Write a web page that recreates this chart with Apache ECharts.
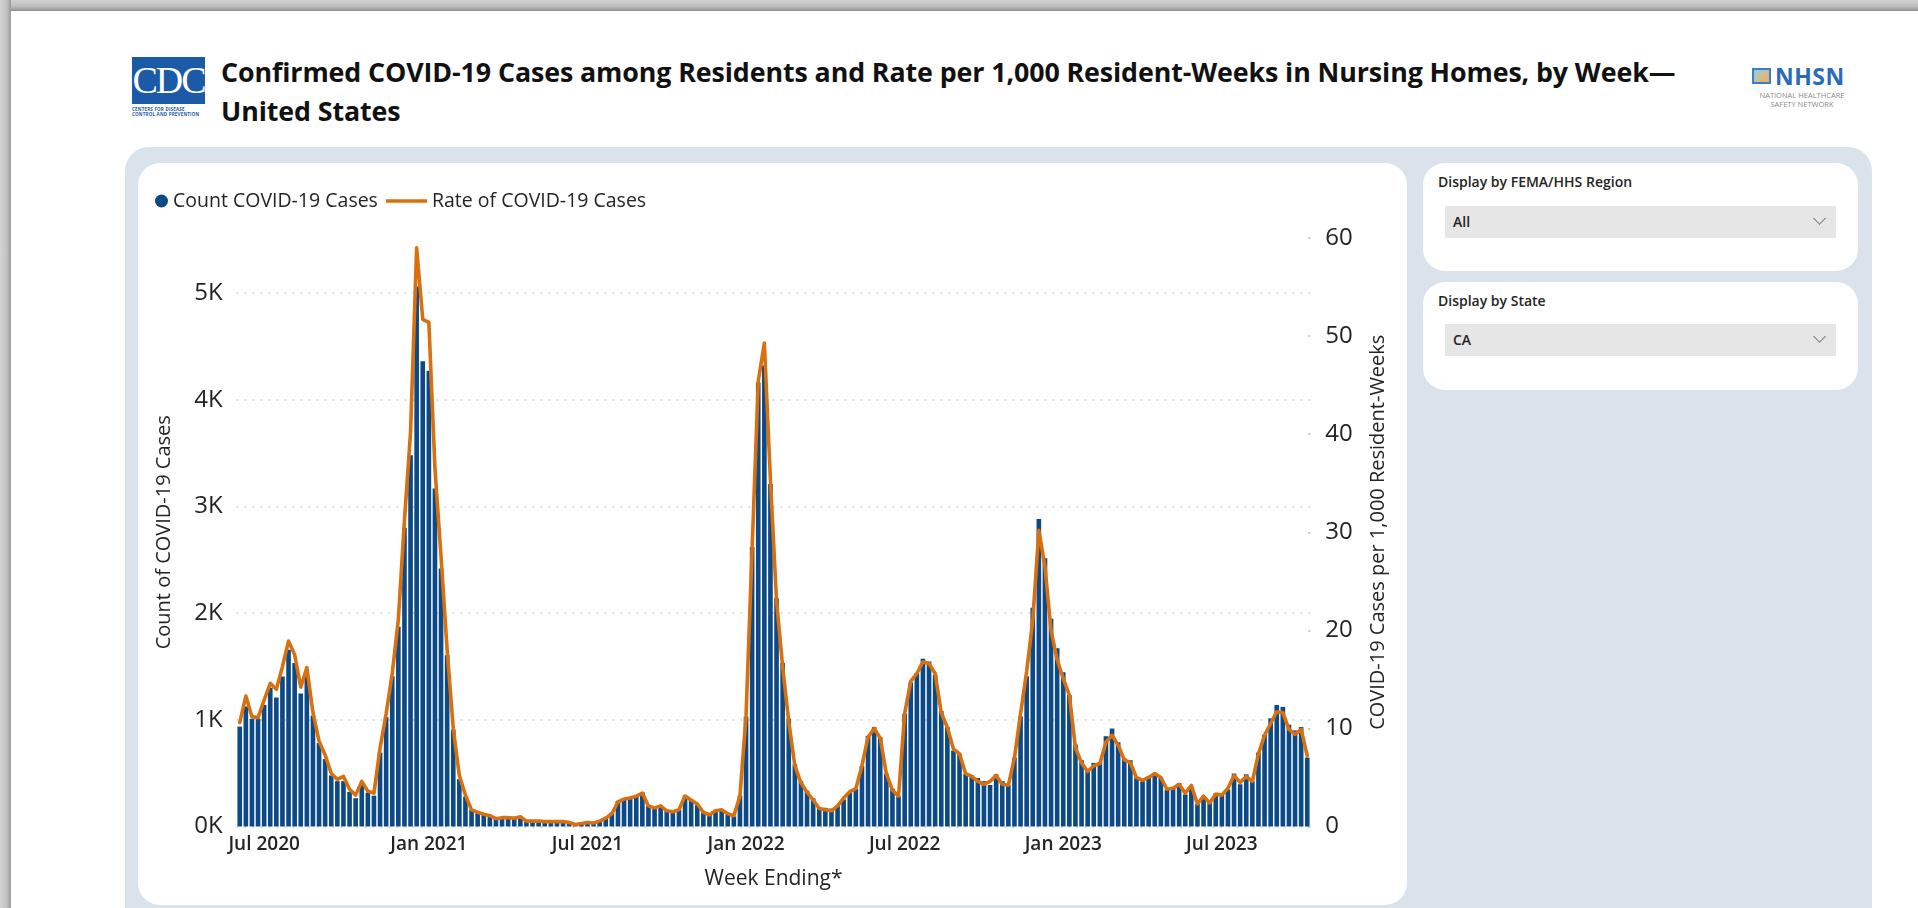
<!DOCTYPE html>
<html>
<head>
<meta charset="utf-8">
<title>Confirmed COVID-19 Cases among Residents – Nursing Homes</title>
<script src="https://cdn.jsdelivr.net/npm/echarts@6/dist/echarts.min.js"></script>
<style>
  html, body {
    margin: 0; padding: 0; width: 1918px; height: 908px; overflow: hidden;
    background: #ffffff; color: #252423;
    font-family: "Segoe UI", "Open Sans", "Noto Sans", sans-serif;
  }
  .frame-top { position: absolute; left: 0; top: 0; width: 1918px; height: 11px;
    background: linear-gradient(#d2d2d2, #bcbcbc 60%, #8e8e8e); }
  .frame-left { position: absolute; left: 0; top: 0; width: 11px; height: 908px;
    background: linear-gradient(90deg, #d6d6d6, #c2c2c2 60%, #9a9a9a); }
  .cdc { position: absolute; left: 132px; top: 57px; width: 73px; height: 62px; }
  .cdc .box { width: 73px; height: 47px; background: #1b5aa7; color: #fff;
    font-family: "Liberation Serif", "DejaVu Serif", serif; font-size: 38px; line-height: 47px;
    text-align: center; letter-spacing: -2px; }
  .cdc .sub { font-size: 4.5px; line-height: 5px; color: #1b5aa7; font-weight: 700; margin-top: 3px; letter-spacing: 0.2px; }
  .title { position: absolute; left: 221px; top: 52px; margin: 0; width: 1540px;
    font-size: 26.8px; line-height: 39px; font-weight: 700; color: #111111; letter-spacing: -0.1px; }
  .nhsn { position: absolute; left: 1752px; top: 64px; width: 100px; height: 46px; }
  .nhsn .icon { position: absolute; left: 0; top: 4px; width: 19px; height: 16px;
    border: 2px solid #3b7fc4; box-sizing: border-box; background: linear-gradient(135deg, #9cc9ea, #f2b44c); }
  .nhsn .word { position: absolute; left: 23px; top: -4px; font-size: 23px; font-weight: 700; color: #2a6cb8; letter-spacing: 0.5px; }
  .nhsn .net { position: absolute; left: 0; top: 27px; width: 100px; text-align: center; font-size: 7.5px; line-height: 9px; color: #8a8a8a; }
  .panel { position: absolute; left: 125px; top: 147px; width: 1747px; height: 800px;
    background: #dae3ec; border-radius: 24px; }
  .card { position: absolute; background: #ffffff; border-radius: 22px; }
  .chart-card { left: 138px; top: 163px; width: 1269px; height: 742px; }
  .slicer { left: 1423px; width: 435px; height: 108px; }
  .slicer .label { position: absolute; left: 15px; top: 9px; font-size: 14px; font-weight: 600; color: #252423; }
  .slicer .select { position: absolute; left: 22px; width: 391px; height: 32px; background: #e6e6e6; }
  .slicer .select span { position: absolute; left: 8px; top: 6px; font-size: 14px; font-weight: 600; color: #252423; }
  .slicer .select i { position: absolute; right: 12px; top: 8px; width: 8px; height: 8px;
    border-right: 1.3px solid #777; border-bottom: 1.3px solid #777; transform: rotate(45deg); }
  #chart { position: absolute; left: 0; top: 0; width: 1918px; height: 908px; }
</style>
</head>
<body>
<div class="frame-top"></div>
<div class="frame-left"></div>

<div class="cdc">
  <div class="box">CDC</div>
  <div class="sub">CENTERS FOR DISEASE<br>CONTROL AND PREVENTION</div>
</div>
<h1 class="title">Confirmed COVID-19 Cases among Residents and Rate per 1,000 Resident-Weeks in Nursing Homes, by Week—<br>United States</h1>
<div class="nhsn">
  <div class="icon"></div>
  <div class="word">NHSN</div>
  <div class="net">NATIONAL HEALTHCARE<br>SAFETY NETWORK</div>
</div>

<div class="panel"></div>
<div class="card chart-card"></div>
<div class="card slicer" style="top:163px">
  <div class="label">Display by FEMA/HHS Region</div>
  <div class="select" style="top:43px"><span>All</span><i></i></div>
</div>
<div class="card slicer" style="top:282px">
  <div class="label">Display by State</div>
  <div class="select" style="top:42px"><span>CA</span><i></i></div>
</div>

<div id="chart"></div>

<script>
// Weekly series, first week ending 2020-05-31
const firstWeekEnding = '2020-05-31';

// Count of confirmed COVID-19 cases among residents, per week
const caseCounts = [
  936, 1125, 1010, 1010, 1140, 1300, 1210, 1405, 1657, 1532,
  1246, 1405, 1039, 782, 632, 478, 425, 425, 325, 265,
  407, 317, 289, 692, 1025, 1407, 1871, 2800, 3480, 5060,
  4360, 4270, 3168, 2418, 1604, 907, 443, 282, 157, 139,
  121, 104, 79, 86, 86, 79, 86, 50, 50, 50,
  43, 43, 46, 46, 36, 18, 25, 32, 35, 55,
  85, 130, 240, 265, 275, 295, 320, 195, 170, 190,
  150, 145, 160, 290, 250, 200, 130, 110, 150, 150,
  115, 95, 290, 1030, 2620, 4160, 4320, 3210, 2139, 1532,
  1011, 582, 425, 336, 264, 182, 175, 168, 193, 254,
  318, 354, 568, 850, 932, 836, 496, 354, 282, 1057,
  1350, 1439, 1571, 1546, 1421, 1082, 932, 711, 682, 496,
  479, 454, 425, 389, 489, 425, 389, 646, 1032, 1407,
  2050, 2882, 2514, 1946, 1671, 1446, 1232, 768, 621, 532,
  596, 604, 846, 918, 789, 639, 621, 461, 425, 468,
  504, 461, 346, 371, 407, 300, 371, 211, 282, 229,
  311, 300, 346, 496, 396, 489, 425, 693, 861, 1014,
  1139, 1121, 954, 900, 932, 646
];

// Rate of COVID-19 cases per 1,000 resident-weeks, per week
const caseRates = [
  10.6, 13.3, 11.2, 11.1, 12.9, 14.6, 14.0, 16.3, 18.9, 17.5,
  14.2, 16.2, 11.6, 8.7, 7.3, 5.4, 4.8, 5.1, 3.8, 3.2,
  4.6, 3.6, 3.4, 8.0, 11.5, 15.6, 21.1, 31.2, 40.2, 59.0,
  51.7, 51.4, 36.5, 27.5, 18.0, 10.0, 5.2, 3.2, 1.7, 1.45,
  1.25, 1.1, 0.8, 0.9, 0.9, 0.85, 1.0, 0.55, 0.55, 0.55,
  0.5, 0.5, 0.5, 0.5, 0.4, 0.2, 0.3, 0.4, 0.35, 0.55,
  0.85, 1.3, 2.5, 2.8, 2.9, 3.1, 3.4, 2.1, 1.9, 2.1,
  1.6, 1.5, 1.7, 3.1, 2.7, 2.3, 1.45, 1.2, 1.6, 1.7,
  1.3, 1.1, 3.1, 11.3, 28.4, 45.4, 49.3, 35.3, 23.0, 16.3,
  10.7, 6.2, 4.45, 3.5, 2.7, 1.83, 1.7, 1.6, 2.1, 2.9,
  3.55, 3.86, 6.2, 9.1, 10.0, 9.0, 5.4, 3.7, 3.1, 11.5,
  14.8, 15.6, 16.8, 16.6, 15.6, 11.6, 10.1, 7.9, 7.4, 5.4,
  5.1, 4.6, 4.3, 4.6, 5.2, 4.3, 4.2, 7.0, 11.5, 15.8,
  21.0, 30.2, 26.5, 20.0, 17.0, 15.1, 13.4, 8.0, 6.5, 5.6,
  6.2, 6.4, 8.6, 9.3, 8.3, 6.8, 6.5, 5.0, 4.7, 5.0,
  5.4, 5.0, 3.8, 3.9, 4.3, 3.4, 4.2, 2.3, 3.1, 2.4,
  3.3, 3.2, 3.9, 5.2, 4.5, 5.1, 4.6, 7.4, 9.3, 10.5,
  11.7, 11.6, 9.9, 9.4, 9.9, 7.2
];

// Date-axis labels and the week ending nearest each month start
const tickWeeks  = ['2020-06-28', '2021-01-03', '2021-07-04', '2022-01-02', '2022-07-03', '2023-01-01', '2023-07-02'];
const tickLabels = ['Jul 2020', 'Jan 2021', 'Jul 2021', 'Jan 2022', 'Jul 2022', 'Jan 2023', 'Jul 2023'];

// Week-ending categories, one per value
const weekEndings = caseCounts.map((_, i) => {
  const d = new Date(firstWeekEnding + 'T00:00:00Z');
  d.setUTCDate(d.getUTCDate() + 7 * i);
  return d.toISOString().slice(0, 10);
});

const FONT = '"Segoe UI", "Open Sans", "Noto Sans", sans-serif';
const TEXT = '#252423';
const BAR_BLUE = '#0b4a86';
const RATE_ORANGE = '#d9700f';

const chart = echarts.init(document.getElementById('chart'), null, { renderer: 'canvas' });

chart.setOption({
  animation: false,
  backgroundColor: 'transparent',
  textStyle: { fontFamily: FONT, color: TEXT },
  legend: [
    {
      data: [{ name: 'Count COVID-19 Cases', icon: 'circle' }],
      left: 155, top: 191, padding: 0, selectedMode: false,
      itemWidth: 13, itemHeight: 13,
      textStyle: { fontSize: 19.5, color: TEXT, fontFamily: FONT }
    },
    {
      data: [{ name: 'Rate of COVID-19 Cases', icon: 'rect' }],
      left: 386, top: 191, padding: 0, selectedMode: false,
      itemWidth: 41, itemHeight: 3.5,
      textStyle: { fontSize: 19.5, color: TEXT, fontFamily: FONT }
    }
  ],
  grid: { left: 236.7, right: 607.7, top: 238, bottom: 81.5, containLabel: false },
  xAxis: {
    type: 'category',
    data: weekEndings,
    boundaryGap: true,
    axisLine: { show: false },
    axisTick: { show: false },
    axisLabel: {
      interval: (idx, val) => tickWeeks.includes(val),
      formatter: val => tickLabels[tickWeeks.indexOf(val)],
      fontSize: 19, fontWeight: 600, color: TEXT, margin: 9
    },
    name: 'Week Ending*',
    nameLocation: 'middle',
    nameGap: 42,
    nameTextStyle: { fontSize: 21, color: TEXT }
  },
  yAxis: [
    {
      type: 'value',
      min: 0, max: 5515, interval: 1000,
      axisLine: { show: false },
      axisTick: { show: false },
      axisLabel: {
        formatter: v => (v / 1000) + 'K',
        fontSize: 24, color: TEXT, margin: 14, showMaxLabel: false
      },
      splitLine: {
        show: true, showMaxLine: false,
        lineStyle: { color: '#c6c6c6', width: 1.5, type: [1.5, 6.5] }
      },
      name: 'Count of COVID-19 Cases',
      nameLocation: 'middle',
      nameRotate: 90,
      nameGap: 62,
      nameTextStyle: { fontSize: 20, color: TEXT }
    },
    {
      type: 'value',
      position: 'right',
      min: 0, max: 60, interval: 10,
      axisLine: { show: false },
      axisTick: { show: true, inside: true, length: 2, lineStyle: { color: '#c6c6c6', width: 2 } },
      axisLabel: { fontSize: 24, color: TEXT, margin: 15 },
      splitLine: { show: false },
      name: 'COVID-19 Cases per 1,000 Resident-Weeks',
      nameLocation: 'middle',
      nameRotate: 90,
      nameGap: 58,
      nameTextStyle: { fontSize: 20, color: TEXT }
    }
  ],
  series: [
    {
      name: 'Count COVID-19 Cases',
      type: 'bar',
      yAxisIndex: 0,
      data: caseCounts,
      barCategoryGap: '24%',
      itemStyle: { color: BAR_BLUE },
      z: 2
    },
    {
      name: 'Rate of COVID-19 Cases',
      type: 'line',
      yAxisIndex: 1,
      data: caseRates,
      symbol: 'none',
      showSymbol: false,
      lineStyle: { color: RATE_ORANGE, width: 3.6, join: 'round', cap: 'round' },
      itemStyle: { color: RATE_ORANGE },
      z: 3
    }
  ]
});
</script>
</body>
</html>
